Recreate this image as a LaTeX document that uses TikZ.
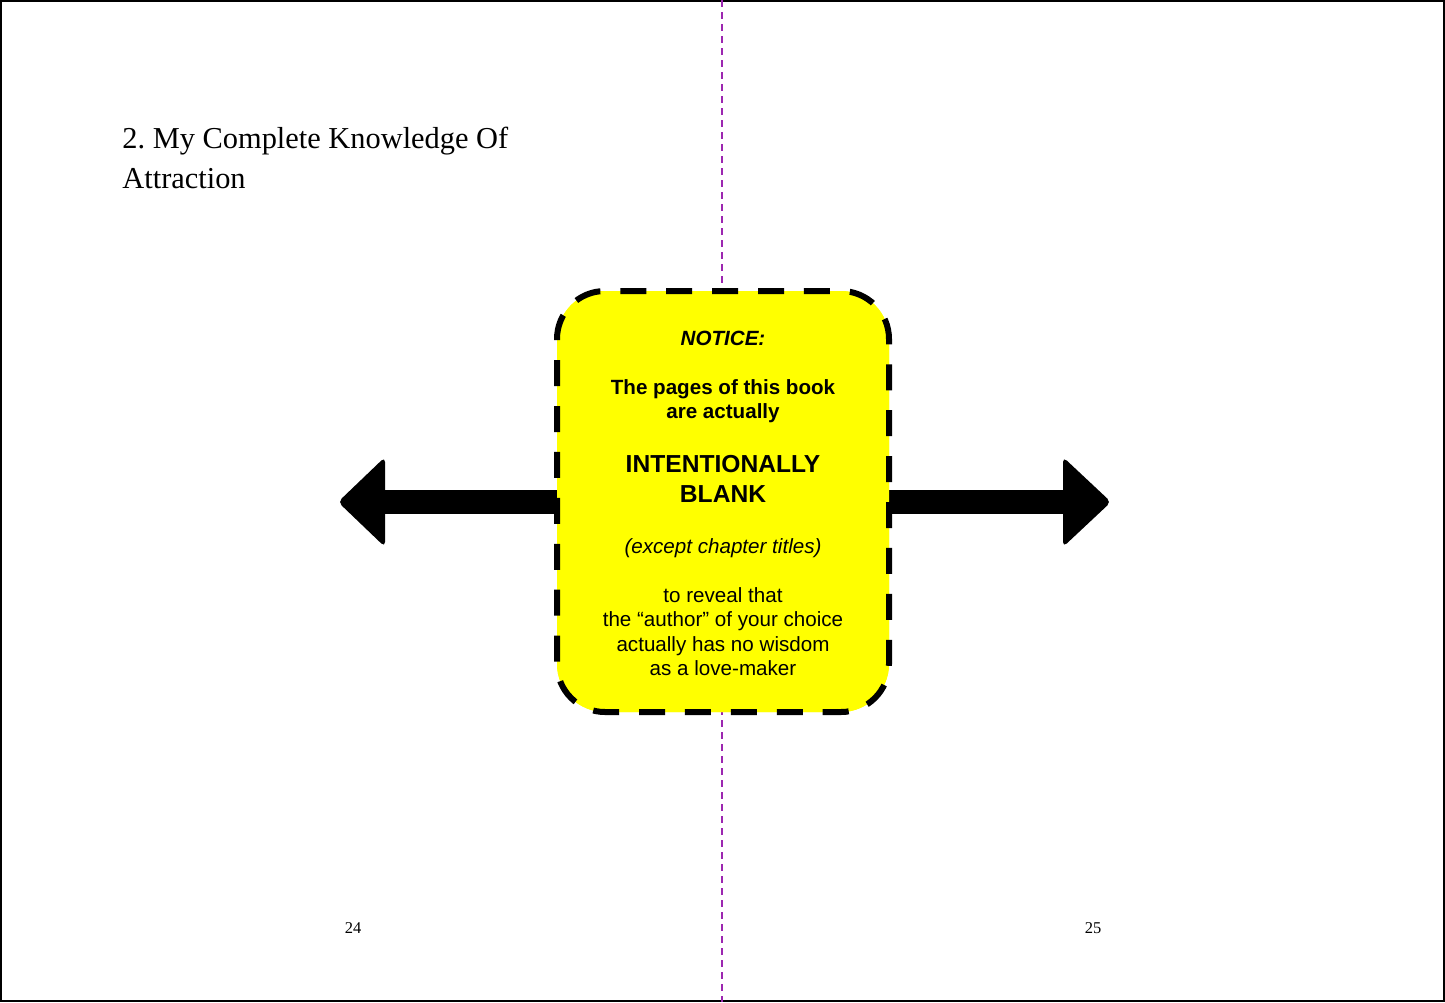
\documentclass[tikz,border=0pt]{standalone}
\usepackage{fontspec}
\setmainfont{Liberation Serif}
\newfontfamily\arialfont{Liberation Sans}
\usetikzlibrary{arrows.meta}
\definecolor{spine}{RGB}{156,39,176}
\definecolor{noteyellow}{RGB}{255,255,0}
\tikzset{
  pageframe/.style={draw=black, line width=1pt},
  spineline/.style={draw=spine, line width=1pt, dash pattern=on 3.5pt off 2.5pt},
  titletext/.style={anchor=base west, inner sep=0pt, font=\fontsize{15.2}{20}\selectfont},
  pagenum/.style={anchor=base, inner sep=0pt, font=\fontsize{8.25}{10}\selectfont},
  notebox/.style={fill=noteyellow, draw=none, rounded corners=24pt, inner sep=0pt, outer sep=0pt,
    minimum width=166pt, minimum height=210.5pt},
  noteborder/.style={draw=black, line width=3pt, rounded corners=24pt,
    dash pattern=on 13pt off 9.96pt, dash phase=6.5pt},
  boxtext/.style={anchor=base, inner sep=0pt, font=\arialfont\fontsize{10.3}{12.3}\selectfont},
  boxbold/.style={boxtext, font=\arialfont\bfseries\fontsize{10.3}{12.3}\selectfont},
  boxbolditalic/.style={boxtext, font=\arialfont\bfseries\itshape\fontsize{10.3}{12.3}\selectfont},
  boxitalic/.style={boxtext, font=\arialfont\itshape\fontsize{10.3}{12.3}\selectfont},
  boxbig/.style={boxtext, font=\arialfont\bfseries\fontsize{12.3}{15}\selectfont},
  arrowshaft/.style={fill=black, draw=none},
  arrowhead/.style={fill=black, draw=none, rounded corners=2.5pt},
}
\begin{document}
\begin{tikzpicture}[x=0.5pt, y=-0.5pt]
\useasboundingbox (0,0) rectangle (1445,1002);
\draw[pageframe] (1,1) rectangle (1444,1001);
% spine
\coordinate (spinetop) at (722,0);
\coordinate (spinebot) at (722,1002);
\draw[spineline] (spinetop) -- (spinebot);
% title and page numbers
\node[titletext] (title1) at (122,148) {2.\ My Complete Knowledge Of};
\node[titletext] (title2) at (122,188) {Attraction};
\node[pagenum] (pleft) at (353,933.5) {24};
\node[pagenum] (pright) at (1093,933.5) {25};
% notice box
\node[notebox] (notice) at (723,501.5) {};
\coordinate (lefttip) at (338,502);
\coordinate (righttip) at (1111,502);
\path (notice.west) ++(4,-12) coordinate (lwu);
\path (notice.east) ++(-4,12) coordinate (red);
\fill[arrowshaft] (lwu) rectangle (378,513.5);
\fill[arrowhead] (385,457) -- (lefttip) -- (385,547) -- cycle;
\fill[arrowshaft] (1070,489.5) rectangle (red);
\fill[arrowhead] (1063,457) -- (righttip) -- (1063,547) -- cycle;
\node[notebox] at (notice.center) {};
\draw[noteborder] (notice.north) -- (notice.north east) -- (notice.south east) -- (notice.south west) -- (notice.north west) -- cycle;
% texts
\node[boxbolditalic] (t1) at (723,345) {NOTICE:};
\node[boxbold] (t2) at (723,394) {The pages of this book};
\node[boxbold] (t3) at (723,418.5) {are actually};
\node[boxbig] (t4) at (723,472) {INTENTIONALLY};
\node[boxbig] (t5) at (723,502) {BLANK};
\node[boxitalic] (t6) at (723,553) {(except chapter titles)};
\node[boxtext] (t7) at (723,602) {to reveal that};
\node[boxtext] (t8) at (723,626.5) {the “author” of your choice};
\node[boxtext] (t9) at (723,651) {actually has no wisdom};
\node[boxtext] (t10) at (723,675.5) {as a love-maker};
\end{tikzpicture}
\end{document}
